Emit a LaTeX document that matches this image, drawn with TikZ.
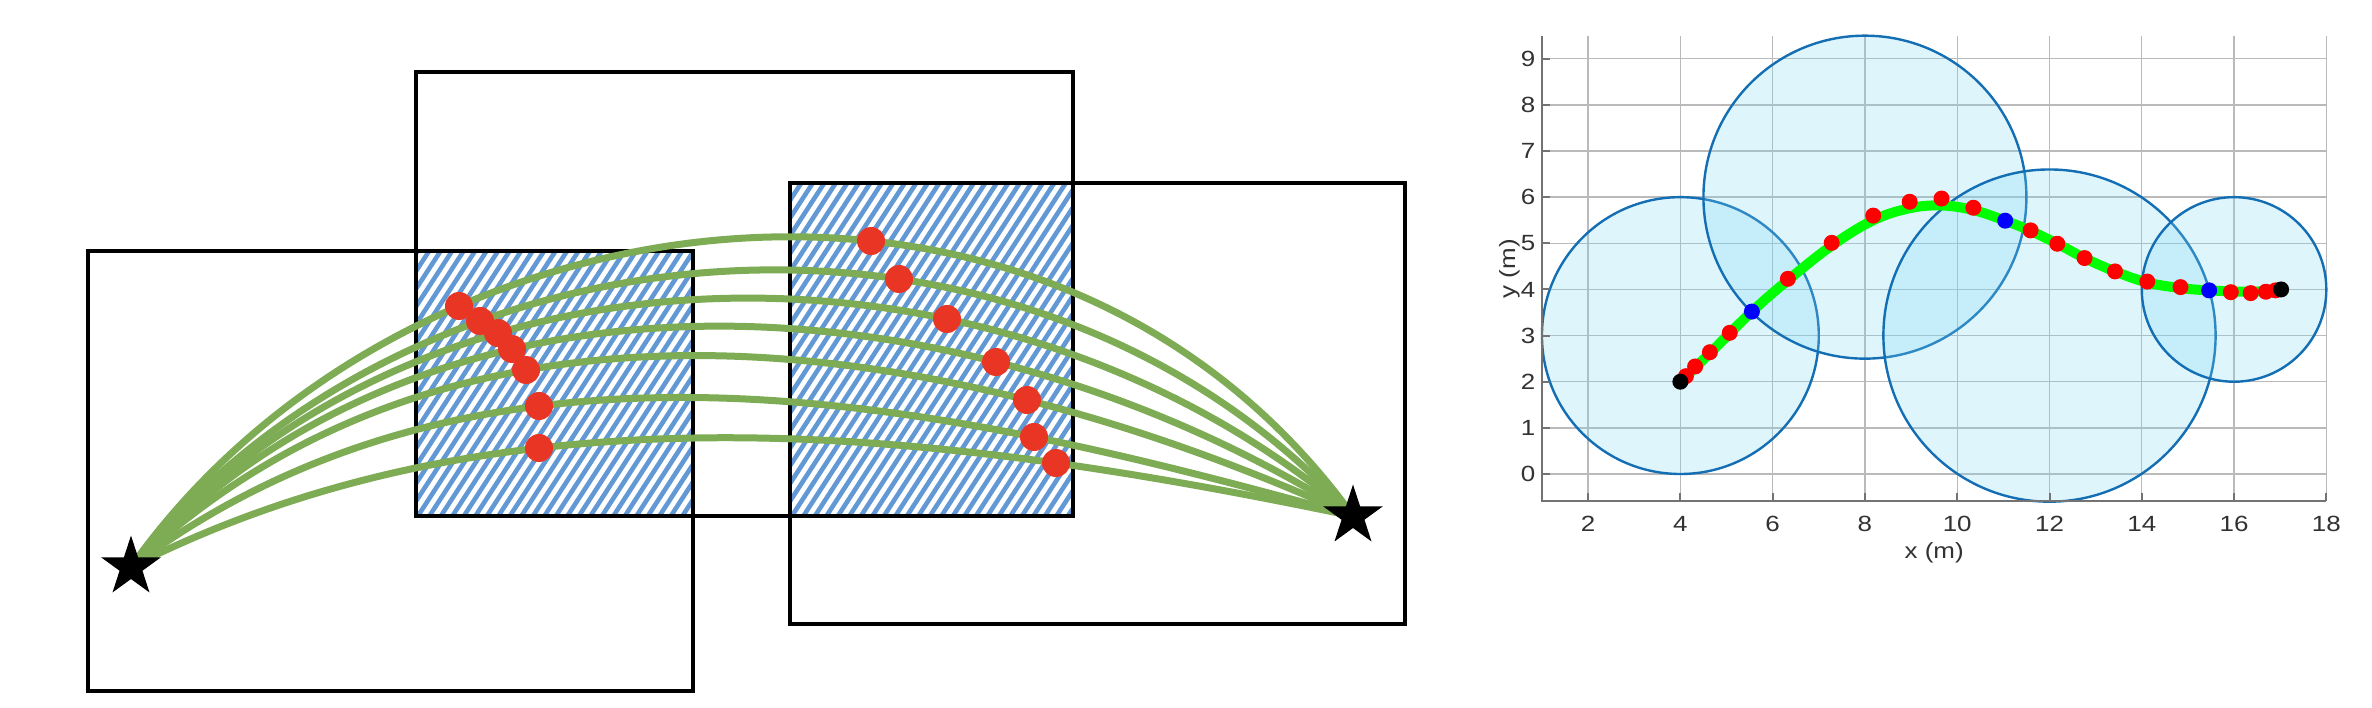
\documentclass[tikz,border=0pt]{standalone}
\usepackage{fontspec}
\usepackage{graphicx}
\setmainfont{Liberation Sans}
\usetikzlibrary{shapes.geometric}
\definecolor{curvegreen}{RGB}{125,172,85}
\definecolor{dotred}{RGB}{233,54,36}
\definecolor{hatchblue}{RGB}{98,152,212}
\definecolor{circedge}{RGB}{20,110,180}
\definecolor{circfill}{RGB}{123,215,243}
\definecolor{ticktext}{RGB}{50,50,50}
\newcommand\wide[1]{\scalebox{1.18}[1]{#1}}
\tikzset{
  boxline/.style={draw=black, line width=3.6pt},
  hatchline/.style={draw=hatchblue, line width=4.6pt},
  traj/.style={draw=curvegreen, line width=7pt, line cap=round},
  wdot/.style={circle, fill=dotred, inner sep=0pt, minimum size=28pt},
  endstar/.style={star, star points=5, star point ratio=2.618, fill=black, inner sep=0pt, minimum size=63pt},
  gridline/.style={draw=black!27, line width=1.4pt},
  axisline/.style={draw=black!55, line width=2pt},
  zone/.style={fill=circfill, fill opacity=0.25, draw=circedge, line width=2.4pt},
  pathline/.style={draw={rgb,255:red,0;green,255;blue,0}, line width=10pt, line cap=round},
  pdot/.style={circle, inner sep=0pt, minimum size=16pt},
  ticklab/.style={text=ticktext, inner sep=0pt, font=\fontsize{22}{26}\selectfont}
}
% cubic Bezier from #2 to #5 passing through #3 and #4 (chord-length parameters)
\newcommand\fitcurve[5]{%
  \pgfpointanchor{#2}{center}\pgfgetlastxy{\cvSx}{\cvSy}%
  \pgfpointanchor{#3}{center}\pgfgetlastxy{\cvLx}{\cvLy}%
  \pgfpointanchor{#4}{center}\pgfgetlastxy{\cvRx}{\cvRy}%
  \pgfpointanchor{#5}{center}\pgfgetlastxy{\cvEx}{\cvEy}%
  \pgfmathsetmacro\cvda{veclen(\cvLx-\cvSx,\cvLy-\cvSy)}%
  \pgfmathsetmacro\cvdb{veclen(\cvRx-\cvLx,\cvRy-\cvLy)}%
  \pgfmathsetmacro\cvdc{veclen(\cvEx-\cvRx,\cvEy-\cvRy)}%
  \pgfmathsetmacro\cvtl{\cvda/(\cvda+\cvdb+\cvdc)}%
  \pgfmathsetmacro\cvtr{(\cvda+\cvdb)/(\cvda+\cvdb+\cvdc)}%
  \pgfmathsetmacro\cvlz{(1-\cvtl)^3}%
  \pgfmathsetmacro\cvlo{3*(1-\cvtl)^2*\cvtl}%
  \pgfmathsetmacro\cvlt{3*(1-\cvtl)*\cvtl^2}%
  \pgfmathsetmacro\cvlh{\cvtl^3}%
  \pgfmathsetmacro\cvrz{(1-\cvtr)^3}%
  \pgfmathsetmacro\cvro{3*(1-\cvtr)^2*\cvtr}%
  \pgfmathsetmacro\cvrt{3*(1-\cvtr)*\cvtr^2}%
  \pgfmathsetmacro\cvrh{\cvtr^3}%
  \pgfmathsetmacro\cvAx{\cvLx-\cvlz*\cvSx-\cvlh*\cvEx}%
  \pgfmathsetmacro\cvAy{\cvLy-\cvlz*\cvSy-\cvlh*\cvEy}%
  \pgfmathsetmacro\cvBx{\cvRx-\cvrz*\cvSx-\cvrh*\cvEx}%
  \pgfmathsetmacro\cvBy{\cvRy-\cvrz*\cvSy-\cvrh*\cvEy}%
  \pgfmathsetmacro\cvdet{\cvlo*\cvrt-\cvlt*\cvro}%
  \pgfmathsetmacro\cvPx{(\cvrt*\cvAx-\cvlt*\cvBx)/\cvdet}%
  \pgfmathsetmacro\cvPy{(\cvrt*\cvAy-\cvlt*\cvBy)/\cvdet}%
  \pgfmathsetmacro\cvQx{(\cvlo*\cvBx-\cvro*\cvAx)/\cvdet}%
  \pgfmathsetmacro\cvQy{(\cvlo*\cvBy-\cvro*\cvAy)/\cvdet}%
  \draw[#1] (#2) .. controls (\cvPx pt,\cvPy pt) and (\cvQx pt,\cvQy pt) .. (#5);%
}
\begin{document}
\begin{tikzpicture}[x=1pt,y=-1pt]
\useasboundingbox (0,0) rectangle (2372,708);

% ---------- left diagram ----------
\begin{scope}
  \clip (416,251) rectangle (693,516);
  \foreach \k in {0,...,46} \draw[hatchline] ({416-232+\k*11.5},522) -- ++(232,-357);
\end{scope}
\begin{scope}
  \clip (790,183) rectangle (1073,516);
  \foreach \k in {0,...,46} \draw[hatchline] ({790-232+\k*11.5},522) -- ++(232,-357);
\end{scope}

\draw[boxline] (88,251) rectangle (693,691);
\draw[boxline] (416,72) rectangle (1073,516);
\draw[boxline] (790,183) rectangle (1405,624);

\coordinate (s1c) at (131,567);
\coordinate (s2c) at (1353,516);

\coordinate (l1) at (459,306); \coordinate (r1) at (871,241);
\coordinate (l2) at (480,321); \coordinate (r2) at (899,279);
\coordinate (l3) at (498,333); \coordinate (r3) at (947,319);
\coordinate (l4) at (512,349); \coordinate (r4) at (996,362);
\coordinate (l5) at (526,370); \coordinate (r5) at (1027,400);
\coordinate (l6) at (539,406); \coordinate (r6) at (1034,437);
\coordinate (l7) at (539,448); \coordinate (r7) at (1056,463);

\foreach \i in {1,...,7} {\fitcurve{traj}{s1c}{l\i}{r\i}{s2c}}

\foreach \i in {1,...,7} {
  \node[wdot] (dl\i) at (l\i) {};
  \node[wdot] (dr\i) at (r\i) {};
}

\node[endstar] (s1) at (s1c) {};
\node[endstar] (s2) at (s2c) {};

% ---------- right plot ----------
\begin{scope}[shift={(1495.8,474)}, x=46.14pt, y=46.14pt]
  \foreach \x in {2,4,...,18} \draw[gridline] (\x,-0.59) -- (\x,9.5);
  \foreach \y in {0,...,9} \draw[gridline] (1,\y) -- (18,\y);

  \filldraw[zone] (4,3) circle (3);
  \filldraw[zone] (8,6) circle (3.5);
  \filldraw[zone] (12,3) circle (3.6);
  \filldraw[zone] (16,4) circle (2);

  \draw[axisline] (1,9.5) -- (1,-0.59) -- (18,-0.59);
  \foreach \x in {2,4,...,18} \draw[axisline] (\x,-0.59) -- ++(0,0.17);
  \foreach \y in {0,...,9} \draw[axisline] (1,\y) -- ++(0.17,0);

  \foreach \x in {2,4,...,18} \node[ticklab, anchor=base] (xt\x) at (\x,-1.25) {\wide{\x}};
  \foreach \y in {0,...,9} \node[ticklab, anchor=east] (yt\y) at (0.86,\y) {\wide{\y}};
  \node[ticklab, anchor=base] (xlab) at (9.5,-1.84) {\wide{x (m)}};
  \node[ticklab, anchor=base, rotate=90] (ylab) at (0.42,4.45) {\wide{y (m)}};

  \draw[pathline] plot[smooth, tension=0.6] coordinates {(4,2) (4.64,2.62) (5.55,3.52) (6.33,4.2) (7.28,4.95) (8.18,5.5) (8.97,5.76) (9.66,5.82) (10.35,5.72) (11.04,5.49) (11.59,5.27) (12.17,4.99) (12.76,4.68) (13.42,4.39) (14.12,4.15) (14.84,4.03) (15.46,3.98) (16.36,3.95) (17.02,4.0)};

  \foreach \px/\py [count=\n] in {4.12/2.12, 4.32/2.33, 4.64/2.64, 5.07/3.06, 6.33/4.23, 7.28/5.01, 8.18/5.6, 8.97/5.9, 9.66/5.97, 10.35/5.77, 11.59/5.28, 12.17/4.99, 12.76/4.68, 13.42/4.39, 14.12/4.17, 14.84/4.05, 15.93/3.94, 16.36/3.92, 16.69/3.95, 16.9/3.98}
    \node[pdot, fill={rgb,255:red,255;green,0;blue,0}] (rd\n) at (\px,\py) {};
  \foreach \px/\py [count=\n] in {5.55/3.52, 11.04/5.49, 15.46/3.98}
    \node[pdot, fill={rgb,255:red,0;green,0;blue,255}] (bd\n) at (\px,\py) {};
  \node[pdot, fill=black] (start) at (4,2) {};
  \node[pdot, fill=black] (goal) at (17.02,4) {};
\end{scope}
\end{tikzpicture}
\end{document}
